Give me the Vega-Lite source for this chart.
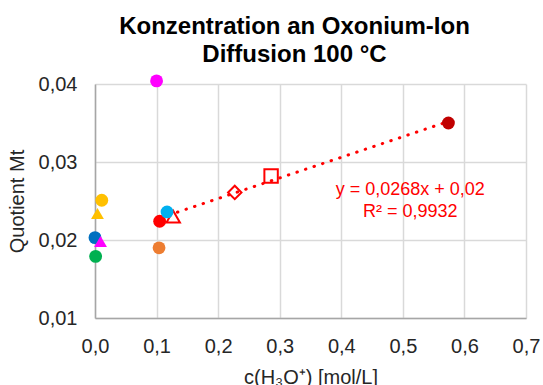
{
  "$schema": "https://vega.github.io/schema/vega-lite/v6.json",
  "width": 431,
  "height": 234,
  "autosize": {"type": "none"},
  "padding": {"left": 95, "top": 84, "right": 17, "bottom": 67},
  "background": "white",
  "title": {
    "text": ["Konzentration an Oxonium-Ion", "Diffusion 100 °C"],
    "font": "Liberation Sans",
    "fontSize": 24,
    "fontWeight": "bold",
    "color": "#000000",
    "lineHeight": 28,
    "anchor": "middle",
    "dx": -16,
    "offset": 7
  },
  "config": {
    "view": {"stroke": null},
    "font": "Liberation Sans"
  },
  "resolve": {"scale": {"shape": "independent", "color": "independent"}},
  "datasets": {
    "trend": [
      {"x": 0.12, "y": 0.0232},
      {"x": 0.574, "y": 0.0352}
    ],
    "offen": [
      {"serie": "Dreieck offen", "x": 0.127, "y": 0.0230},
      {"serie": "Raute offen", "x": 0.227, "y": 0.0261},
      {"serie": "Quadrat offen", "x": 0.286, "y": 0.0282}
    ],
    "gefuellt": [
      {"serie": "Magenta Kreis", "x": 0.1, "y": 0.0404},
      {"serie": "Gelb Kreis", "x": 0.011, "y": 0.0251},
      {"serie": "Gelb Dreieck", "x": 0.004, "y": 0.0234},
      {"serie": "Blau Kreis", "x": 0.0, "y": 0.0203},
      {"serie": "Magenta Dreieck", "x": 0.009, "y": 0.0198},
      {"serie": "Grün Kreis", "x": 0.001, "y": 0.0179},
      {"serie": "Orange Kreis", "x": 0.104, "y": 0.0190},
      {"serie": "Rot Kreis", "x": 0.105, "y": 0.0224},
      {"serie": "Hellblau Kreis", "x": 0.117, "y": 0.0236},
      {"serie": "Dunkelrot Kreis", "x": 0.574, "y": 0.0350}
    ],
    "gleichung": [
      {"x": 0.512, "y": 0.02641, "t": "y = 0,0268x + 0,02"},
      {"x": 0.512, "y": 0.02359, "t": "R² = 0,9932"}
    ]
  },
  "layer": [
    {
      "data": {"name": "trend"},
      "mark": {"type": "line", "color": "#FF0000", "strokeWidth": 3, "strokeDash": [0.5, 8.5], "strokeCap": "round"},
      "encoding": {
        "x": {
          "field": "x", "type": "quantitative",
          "scale": {"domain": [0, 0.7], "nice": false, "zero": false},
          "axis": {
            "values": [0, 0.1, 0.2, 0.3, 0.4, 0.5, 0.6, 0.7],
            "labelExpr": "replace(format(datum.value, '.1f'), '.', ',')",
            "title": "c(H₃O⁺) [mol/L]",
            "titleFont": "Liberation Sans",
            "titleFontSize": 20,
            "titleFontWeight": "normal",
            "titleColor": "#262626",
            "titleX": 215.5,
            "titleY": 65,
            "titleAlign": "center",
            "titleBaseline": "alphabetic",
            "labelFont": "Liberation Sans",
            "labelFontSize": 20,
            "labelColor": "#262626",
            "labelBaseline": "alphabetic",
            "labelPadding": 34,
            "labelFlush": false,
            "labelOverlap": false,
            "ticks": false,
            "tickSize": 0,
            "domainColor": "#A6A6A6",
            "domainWidth": 1.5,
            "gridColor": "#D9D9D9",
            "gridWidth": 1.5
          }
        },
        "y": {
          "field": "y", "type": "quantitative",
          "scale": {"domain": [0.01, 0.04], "nice": false, "zero": false},
          "axis": {
            "values": [0.01, 0.02, 0.03, 0.04],
            "labelExpr": "replace(format(datum.value, '.2f'), '.', ',')",
            "title": "Quotient Mt",
            "titleFont": "Liberation Sans",
            "titleFontSize": 20,
            "titleFontWeight": "normal",
            "titleColor": "#262626",
            "titleAngle": -90,
            "titleX": -78,
            "titleY": 117,
            "titleAlign": "center",
            "titleBaseline": "middle",
            "labelFont": "Liberation Sans",
            "labelFontSize": 20,
            "labelColor": "#262626",
            "labelPadding": 18,
            "labelFlush": false,
            "labelOverlap": false,
            "ticks": false,
            "tickSize": 0,
            "domainColor": "#A6A6A6",
            "domainWidth": 1.5,
            "gridColor": "#D9D9D9",
            "gridWidth": 1.5
          }
        }
      }
    },
    {
      "data": {"name": "offen"},
      "mark": {"type": "point", "filled": false, "stroke": "#FF0000", "strokeWidth": 2, "size": 180, "opacity": 1},
      "encoding": {
        "x": {"field": "x", "type": "quantitative"},
        "y": {"field": "y", "type": "quantitative"},
        "shape": {
          "field": "serie", "type": "nominal", "legend": null,
          "scale": {"domain": ["Dreieck offen", "Raute offen", "Quadrat offen"], "range": ["triangle-up", "diamond", "square"]}
        }
      }
    },
    {
      "data": {"name": "gefuellt"},
      "mark": {"type": "point", "filled": true, "size": 165, "opacity": 1},
      "encoding": {
        "x": {"field": "x", "type": "quantitative"},
        "y": {"field": "y", "type": "quantitative"},
        "color": {
          "field": "serie", "type": "nominal", "legend": null,
          "scale": {
            "domain": ["Magenta Kreis", "Gelb Kreis", "Gelb Dreieck", "Blau Kreis", "Magenta Dreieck", "Grün Kreis", "Orange Kreis", "Rot Kreis", "Hellblau Kreis", "Dunkelrot Kreis"],
            "range": ["#FF00FF", "#FFC000", "#FFC000", "#0070C0", "#FF00FF", "#00B050", "#ED7D31", "#FF0000", "#00B0F0", "#C00000"]
          }
        },
        "shape": {
          "field": "serie", "type": "nominal", "legend": null,
          "scale": {
            "domain": ["Magenta Kreis", "Gelb Kreis", "Gelb Dreieck", "Blau Kreis", "Magenta Dreieck", "Grün Kreis", "Orange Kreis", "Rot Kreis", "Hellblau Kreis", "Dunkelrot Kreis"],
            "range": ["circle", "circle", "triangle-up", "circle", "triangle-up", "circle", "circle", "circle", "circle", "circle"]
          }
        }
      }
    },
    {
      "data": {"name": "gleichung"},
      "mark": {"type": "text", "font": "Liberation Sans", "fontSize": 18, "color": "#FF0000", "align": "center", "baseline": "middle"},
      "encoding": {
        "x": {"field": "x", "type": "quantitative"},
        "y": {"field": "y", "type": "quantitative"},
        "text": {"field": "t", "type": "nominal"}
      }
    }
  ]
}
